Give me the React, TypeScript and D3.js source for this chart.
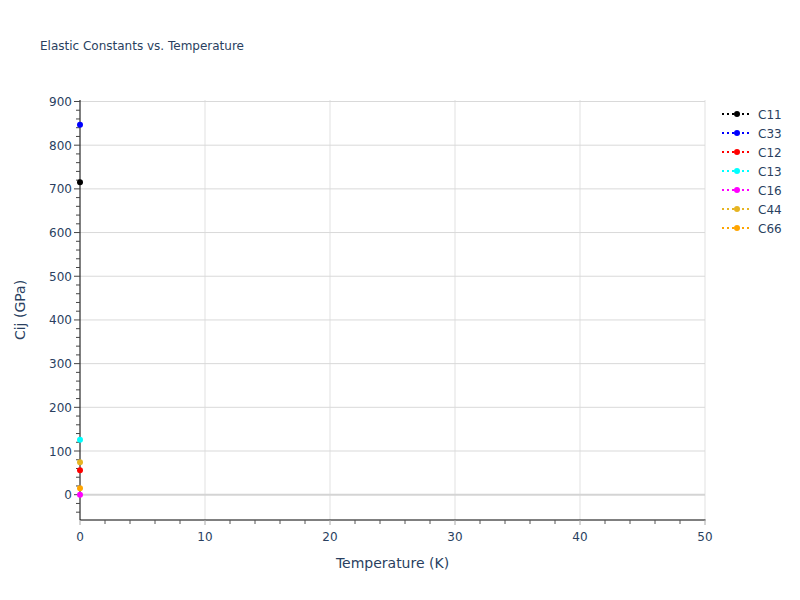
import React from "react";
import * as d3 from "d3";

const temperatures = [0];
const seriesNames = ["C11", "C33", "C12", "C13", "C16", "C44", "C66"];
const seriesColors = ["black", "blue", "red", "cyan", "magenta", "#e6b422", "orange"];
const C11 = [715];
const C33 = [847];
const C12 = [56];
const C13 = [126];
const C16 = [0];
const C44 = [74];
const C66 = [15];
const seriesValues = [C11, C33, C12, C13, C16, C44, C66];
const xTicks = [0, 10, 20, 30, 40, 50];
const yTicks = [0, 100, 200, 300, 400, 500, 600, 700, 800, 900];

const W = 800, H = 600;
const L = 80, R = 705, T = 100, B = 520;
const FONT = 'Verdana, "DejaVu Sans", sans-serif';
const TXT = "#2a3f5f";

export default function App() {
  const x = d3.scaleLinear().domain([0, 50]).range([L, R]);
  const y = d3.scaleLinear().domain([-57.9, 903.4]).range([B, T]);
  const xMinor = d3.range(0, 51, 2);
  const yMinor = d3.range(-40, 901, 20);
  const line = d3.line<number>().x((_, i) => x(temperatures[i])).y((d) => y(d));

  return (
    <svg width={W} height={H} style={{ display: "block", position: "absolute", left: 0, top: 0, background: "white" }} fontFamily={FONT}>
      <rect x={0} y={0} width={W} height={H} fill="white" />
      {/* grid */}
      {xTicks.filter((t) => t !== 0).map((t) => (
        <line key={"gx" + t} x1={x(t)} x2={x(t)} y1={T} y2={B} stroke="#e1e1e1" strokeWidth={1} />
      ))}
      {yTicks.filter((t) => t !== 0).map((t) => (
        <line key={"gy" + t} x1={L} x2={R} y1={y(t)} y2={y(t)} stroke="#d9d9d9" strokeWidth={1} />
      ))}
      <line x1={L} x2={R} y1={y(0)} y2={y(0)} stroke="#d4d4d4" strokeWidth={2} />
      {/* axes */}
      <line x1={L} x2={R + 0.5} y1={B} y2={B} stroke="black" strokeWidth={1} />
      <line x1={L} x2={L} y1={T} y2={B} stroke="black" strokeWidth={1} />
      {xMinor.filter((t) => t % 10 !== 0).map((t) => (
        <line key={"xm" + t} x1={x(t)} x2={x(t)} y1={B} y2={B + 4} stroke="#555" strokeWidth={1} />
      ))}
      {xTicks.map((t) => (
        <g key={"xt" + t}>
          <line x1={x(t)} x2={x(t)} y1={B} y2={B + 5} stroke="#aaa" strokeWidth={1} />
          <text x={x(t)} y={B + 21} textAnchor="middle" fontSize={12} fill={TXT}>{t}</text>
        </g>
      ))}
      {yMinor.filter((t) => t % 100 !== 0).map((t) => (
        <line key={"ym" + t} x1={L - 4} x2={L} y1={y(t)} y2={y(t)} stroke="#444" strokeWidth={1} />
      ))}
      {yTicks.map((t) => (
        <g key={"yt" + t}>
          <line x1={L - 6} x2={L} y1={y(t)} y2={y(t)} stroke="#444" strokeWidth={1} />
          <text x={L - 8} y={y(t) + 4.5} textAnchor="end" fontSize={12} fill={TXT}>{t}</text>
        </g>
      ))}
      {/* series */}
      {seriesValues.map((vals, si) => (
        <g key={"s" + si}>
          <path d={line(vals) || ""} fill="none" stroke={seriesColors[si]} strokeWidth={2} strokeDasharray="2,3" />
          {vals.map((v, i) => (
            <circle key={i} cx={x(temperatures[i])} cy={y(v)} r={3} fill={seriesColors[si]} />
          ))}
        </g>
      ))}
      {/* title */}
      <text x={40} y={50} fontSize={12} fill={TXT}>Elastic Constants vs. Temperature</text>
      <text x={(L + R) / 2} y={568} textAnchor="middle" fontSize={14} fill={TXT}>Temperature (K)</text>
      <text transform={`translate(25,${(T + B) / 2}) rotate(-90)`} textAnchor="middle" fontSize={14} fill={TXT}>Cij (GPa)</text>
      {/* legend */}
      {seriesNames.map((n, i) => {
        const ly = 114 + i * 19;
        return (
          <g key={"lg" + n}>
            <line x1={722} x2={752} y1={ly} y2={ly} stroke={seriesColors[i]} strokeWidth={2} strokeDasharray="2,3" />
            <circle cx={737} cy={ly} r={3} fill={seriesColors[i]} />
            <text x={758} y={ly + 4.5} fontSize={12} fill={TXT}>{n}</text>
          </g>
        );
      })}
    </svg>
  );
}
